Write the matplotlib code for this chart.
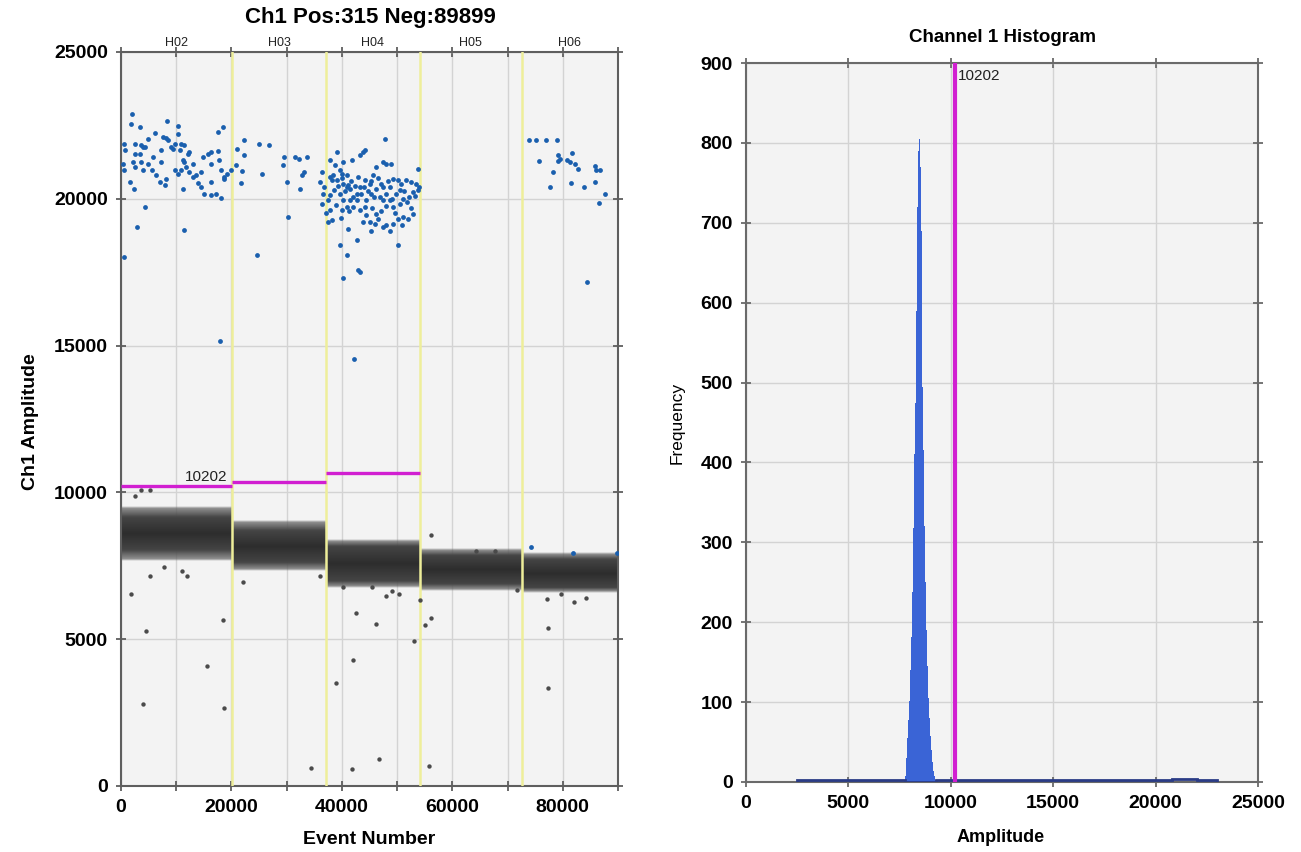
import matplotlib
matplotlib.use("Agg")
import matplotlib.pyplot as plt
import matplotlib.transforms as mtransforms
from matplotlib.colors import to_rgb
import numpy as np

plt.rcParams['font.family'] = ['Liberation Sans Narrow', 'Liberation Sans', 'DejaVu Sans']

# ---------------- data: left panel (droplet amplitude vs event number) -------------
title_left = "Ch1 Pos:315 Neg:89899"
well_names = ["H02", "H03", "H04", "H05", "H06"]
well_edges = [0, 20118, 37184, 54062, 72561, 90000]
thresholds = [10202, 10341, 10659]          # per-well thresholds (H02..H04)
threshold_label = "10202"

# negative-droplet band per well: outer (sparse fringe) and core (dense)
band_outer_lo = [7750, 7400, 6830, 6710, 6650]
band_outer_hi = [9450, 8980, 8350, 8010, 7900]
band_core_lo = [8050, 7620, 7000, 6880, 6760]
band_core_hi = [9150, 8700, 8180, 7840, 7730]

# positive droplets (blue)
pos_event = [
    1914, 1794, 3411, 8323, 10300, 10300, 6107, 7604, 8203, 596, 2513, 3591, 4010, 4310,
    3411, 2513, 716, 416, 596, 2213, 2513, 3711, 4010, 5687, 5807, 7304, 7304, 9101, 9401,
    9700, 10899, 11498, 10599, 12097, 12396, 11198, 11498, 9700, 10300, 10899, 11797, 12396,
    12995, 13594, 14493, 14792, 15691, 16290, 17488, 16290, 17787, 18087, 18686, 18686,
    19285, 19884, 17488, 18386, 14493, 15092, 16290, 17188, 18087, 16290, 13894, 11198,
    6406, 7005, 7904, 1614, 2393, 4310, 2932, 11318, 596, 18000, 4909, 8502, 12995, 4909, 8203,
    # H03
    20782, 21082, 22280, 22280, 21980, 21681, 24975, 26772, 25574, 29468, 31564, 32163,
    33661, 29348, 30067, 32463, 33062, 32762, 24676, 30186,
    # H04
    37854, 39171, 40250, 38752, 41747, 43245, 43844, 44143, 47737, 37854, 38153, 38453,
    36356, 36057, 36656, 37854, 37554, 36356, 37854, 38153, 37554, 39651, 39950, 40849,
    41148, 41448, 40250, 39052, 39651, 40250, 40849, 39950, 41448, 42047, 42646, 43245,
    44143, 45042, 45641, 46240, 47438, 48037, 48935, 49235, 50133, 50732, 51631, 52529,
    53428, 53727, 53727, 52829, 52230, 51032, 50433, 49235, 48636, 48037, 47438, 46839,
    46240, 45341, 44443, 44143, 43245, 44443, 45042, 45940, 46539, 47438, 48037, 49235,
    50133, 51032, 52829, 42646, 42047, 41148, 39651, 40849, 42646, 42945, 43245, 40250,
    45341, 50133, 46240, 47438, 48636, 49834, 42230,
    38500, 39300, 40000, 40600, 41000, 41600, 42300, 42900, 43500, 44000, 44700, 45200,
    45800, 46600, 47100, 47900, 48400, 49000, 49600, 50500, 51300, 51800, 52500, 53200,
    53900, 38900, 39800, 41200, 43800, 45500, 47000, 48800, 50800, 52000, 36800, 37200,
    # H06
    73794, 75171, 76968, 78885, 75710, 79184, 79484, 79065, 81581, 80683, 81282, 82180,
    82779, 85774, 86074, 86673, 78286, 77687, 81461, 83797, 85774, 87691, 86553, 84396,
    74197, 81803, 89784,
]
pos_amp = [
    22874, 22556, 22442, 22647, 22465, 22215, 22249, 22102, 22079, 21874, 21874, 21818, 21761, 21761,
    21534, 21511, 21647, 21193, 20966, 21250, 21079, 21250, 20966, 20966, 21420, 21647, 21250, 21761, 21704,
    21874, 21874, 21818, 21647, 21534, 21590, 21306, 21250, 20966, 20852, 20966, 21079, 20909,
    20738, 20795, 20909, 21420, 21534, 21590, 21624, 21193, 21306, 20966, 20738, 20682,
    20852, 20966, 22272, 22442, 20398, 20170, 20114, 20170, 20034, 20568, 20534, 20341,
    20795, 20568, 20454, 20568, 20341, 19716, 19034, 18943, 18012, 15150, 22045, 21988, 21193, 21193, 20682,
    # H03
    21136, 21704, 21988, 21477, 20943, 20534, 21874, 21818, 20852, 21420, 21420, 21363,
    21420, 21136, 20568, 20341, 20909, 20795, 18069, 19375,
    # H04
    21306, 21590, 21250, 21136, 21306, 21477, 21590, 21647, 22045, 20738, 20625, 20795,
    20909, 20568, 20170, 20114, 19943, 19830, 19602, 19262, 19205, 20966, 20852, 20398,
    20454, 20341, 20511, 20625, 20170, 19943, 19716, 19602, 19943, 20057, 20170, 20398,
    20625, 20511, 20795, 21079, 21250, 21193, 21193, 20682, 20625, 20511, 20625, 20568,
    20511, 21022, 20284, 20227, 20057, 20000, 19830, 19716, 19943, 20170, 19943, 20057,
    20341, 20170, 19943, 19716, 19602, 19432, 19205, 19148, 19318, 19034, 19091, 19148,
    19318, 19375, 19489, 19943, 19716, 18977, 18410, 18092, 18580, 17558, 17501, 17308,
    18920, 18432, 19489, 20398, 20398, 20170, 14530,
    20300, 20450, 20700, 20250, 20800, 20600, 20450, 20750, 20150, 20400, 20250, 20600,
    20050, 20700, 20500, 19750, 20600, 20000, 19500, 20300, 20250, 19900, 19700, 20100,
    20400, 19800, 19350, 19600, 19200, 19700, 19600, 18900, 19100, 19300, 20400, 19500,
    # H06
    21988, 21988, 21988, 21988, 21284, 21477, 21363, 21272, 21556, 21306, 21250, 21193,
    21022, 21102, 20988, 20966, 20909, 20398, 20534, 20398, 20579, 20170, 19864, 17160,
    8150, 7920, 7950,
]

# negative outlier droplets (grey)
neg_event = [1746, 5300, 7856, 11098, 12034, 18393, 4489, 4053, 18580, 15588, 22134, 35976,
             34417, 38844, 42086, 42523, 41899, 46139, 45391, 47947, 49132, 50254, 46763,
             53122, 54120, 55055, 56177, 55741, 71703, 77189, 77314, 77314, 79683, 82052,
             84172, 40216, 2494, 3616, 5300, 56115, 64221, 67650]
neg_amp = [6555, 7145, 7464, 7316, 7145, 5669, 5271, 2795, 2670, 4078, 6952, 7145,
           625, 3499, 4305, 5896, 579, 5532, 6782, 6487, 6646, 6555, 932,
           4930, 6350, 5498, 5714, 670, 6691, 6384, 5396, 3328, 6555, 6259,
           6418, 6782, 9886, 10080, 10080, 8546, 8012, 8012]

# ---------------- data: right panel (histogram) ----------------
title_right = "Channel 1 Histogram"
hist_amp = [7775, 7825, 7875, 7925, 7975, 8025, 8075, 8125, 8175, 8225, 8275, 8325, 8375,
            8425, 8475, 8525, 8575, 8625, 8675, 8725, 8775, 8825, 8875, 8925, 8975, 9025,
            9075, 9125, 9175, 9225, 9275]
hist_count = [8, 30, 55, 78, 102, 140, 182, 238, 318, 410, 475, 590, 720, 790, 805, 770,
              690, 495, 415, 320, 250, 190, 145, 105, 80, 58, 40, 25, 14, 7, 3]
hist_bin_width = 50
tail_edges = [2500, 7750, 9300, 20800, 22000, 23000]
tail_counts = [2, 0, 2, 4, 2]
hist_threshold = 10202

# ---------------- figure ----------------
W, H = 1301, 852
fig = plt.figure(figsize=(W / 100, H / 100), dpi=100)
fig.patch.set_facecolor("white")

bg = "#f3f3f3"
grid_c = "#d3d3d3"
frame_c = "#5e5e5e"
magenta = "#d11fd1"
yellow = "#eeee9a"
blue_pt = "#1a5fae"
TICK_FS = 14

# ---- left ----
ax = fig.add_axes([121 / W, 1 - 786 / H, (618 - 121) / W, (786 - 52) / H])
ax.set_facecolor(bg)
xt = list(range(0, 90001, 10000))
ax.set_xticks(xt)
ax.set_xticklabels([str(v) if v % 20000 == 0 and v < 90000 else "" for v in xt])
ax.set_yticks(range(0, 25001, 5000))
ax.grid(True, color=grid_c, lw=1.0, zorder=0)
ax.set_axisbelow(True)
for s in ax.spines.values():
    s.set_color(frame_c)
    s.set_linewidth(1.5)
ax.tick_params(axis="x", which="both", direction="inout", length=7, width=1.3,
               color=frame_c, top=True, labelsize=TICK_FS, pad=6)
ax.tick_params(axis="y", which="both", direction="inout", length=7, width=1.3,
               color=frame_c, right=True, labelsize=TICK_FS, pad=6)
for lbl in ax.get_xticklabels() + ax.get_yticklabels():
    lbl.set_fontweight("bold")

# negative band drawn as a vertical shading per well
core_rgb = np.array(to_rgb("#2d2d2d"))
edge_rgb = np.array(to_rgb("#686868"))
for i in range(len(well_names)):
    x0, x1 = well_edges[i], well_edges[i + 1]
    olo, ohi = band_outer_lo[i], band_outer_hi[i]
    clo, chi = band_core_lo[i], band_core_hi[i]
    ylo, yhi = olo - 70, ohi + 70
    yy = np.linspace(ylo, yhi, 300)
    alpha = np.interp(yy, [ylo, olo, clo, chi, ohi, yhi], [0.0, 0.7, 1.0, 1.0, 0.7, 0.0])
    mix = np.interp(yy, [ylo, clo, (clo + chi) / 2, chi, yhi], [1.0, 0.4, 0.0, 0.4, 1.0])
    img = np.zeros((len(yy), 1, 4))
    img[:, 0, :3] = core_rgb[None, :] * (1 - mix[:, None]) + edge_rgb[None, :] * mix[:, None]
    img[:, 0, 3] = alpha
    ax.imshow(img, extent=[x0, x1, ylo, yhi], origin="lower", aspect="auto",
              interpolation="bilinear", zorder=2)
ax.set_xlim(0, 90000)
ax.set_ylim(0, 25000)

for xe in well_edges[1:-1]:
    ax.axvline(xe, color=yellow, lw=1.8, zorder=3)

ax.scatter(neg_event, neg_amp, s=10, color="#4a4a4a", lw=0, zorder=4)
ax.scatter(pos_event, pos_amp, s=12, color=blue_pt, lw=0, zorder=4)

for i, th in enumerate(thresholds):
    ax.plot([well_edges[i], well_edges[i + 1]], [th, th], color=magenta, lw=2.4, zorder=5,
            solid_capstyle="butt")
ax.text(19300, thresholds[0] + 100, threshold_label, ha="right", va="bottom", fontsize=11,
        color="#222222", zorder=6)

trans = mtransforms.blended_transform_factory(ax.transData, ax.transAxes)
for i, name in enumerate(well_names):
    xc = (well_edges[i] + well_edges[i + 1]) / 2
    ax.text(xc, 1.004, name, transform=trans, ha="center", va="bottom", fontsize=9,
            color="#222222")

ax.set_xlabel("Event Number", fontsize=14, fontweight="bold")
ax.set_ylabel("Ch1 Amplitude", fontsize=14, fontweight="bold")
ax.xaxis.set_label_coords(0.50, -0.061)
ax.yaxis.set_label_coords(-0.165, 0.496)
fig.text(370 / W, 1 - 18 / H, title_left, ha="center", va="center", fontsize=16,
         fontweight="bold")

# ---- right ----
ax2 = fig.add_axes([746 / W, 1 - 782 / H, (1258 - 746) / W, (782 - 63) / H])
ax2.set_facecolor(bg)
ax2.set_xlim(0, 25000)
ax2.set_ylim(0, 900)
ax2.set_xticks(range(0, 25001, 5000))
ax2.set_yticks(range(0, 901, 100))
ax2.grid(True, color=grid_c, lw=1.0, zorder=0)
ax2.set_axisbelow(True)
for s in ax2.spines.values():
    s.set_color("#6a6a6a")
    s.set_linewidth(1.5)
ax2.tick_params(axis="both", direction="inout", length=7, width=1.3, color="#6a6a6a",
                top=True, right=True, labelsize=TICK_FS, pad=6)
for lbl in ax2.get_xticklabels() + ax2.get_yticklabels():
    lbl.set_fontweight("bold")

hist_edges = [a - hist_bin_width / 2 for a in hist_amp] + [hist_amp[-1] + hist_bin_width / 2]
ax2.stairs(hist_count, hist_edges, fill=True, color="#3a64d6", lw=0, zorder=3)
ax2.stairs(tail_counts, tail_edges, color="#2a3b86", lw=2.0, zorder=3)
ax2.axvline(hist_threshold, color=magenta, lw=3.0, zorder=4)
ax2.text(hist_threshold + 150, 893, threshold_label, ha="left", va="top", fontsize=11,
         color="#222222", zorder=5)

ax2.set_xlabel("Amplitude", fontsize=13, fontweight="bold")
ax2.set_ylabel("Frequency", fontsize=12.5)
ax2.xaxis.set_label_coords(0.498, -0.065)
ax2.yaxis.set_label_coords(-0.119, 0.50)
fig.text(1003 / W, 1 - 37 / H, title_right, ha="center", va="center", fontsize=13.5,
         fontweight="bold")

fig.savefig("out.png", dpi=100)
